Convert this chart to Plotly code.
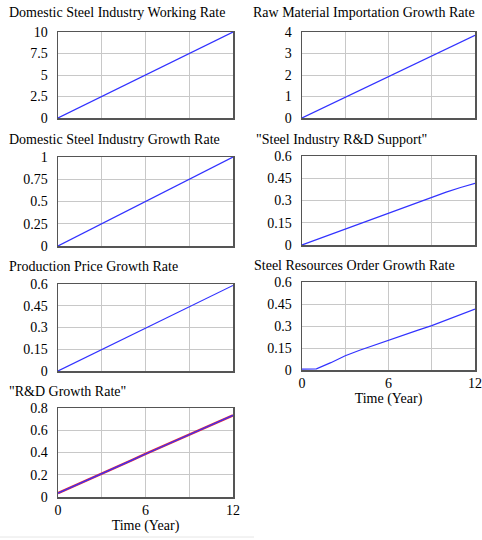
import plotly.graph_objects as go

W, H = 482, 540

time = [0, 1, 2, 3, 4, 5, 6, 7, 8, 9, 10, 11, 12]

working_rate = [0, 0.83, 1.67, 2.5, 3.33, 4.17, 5.0, 5.83, 6.67, 7.5, 8.33, 9.17, 10.0]
raw_import = [0, 0.32, 0.65, 0.97, 1.29, 1.61, 1.93, 2.25, 2.57, 2.9, 3.22, 3.54, 3.85]
dom_growth = [0, 0.083, 0.167, 0.25, 0.333, 0.417, 0.5, 0.583, 0.667, 0.75, 0.833, 0.917, 1.0]
rd_support = [0, 0.036, 0.071, 0.106, 0.141, 0.176, 0.211, 0.247, 0.284, 0.32, 0.356, 0.388, 0.416]
price_growth = [0, 0.049, 0.098, 0.147, 0.196, 0.245, 0.295, 0.344, 0.393, 0.442, 0.491, 0.54, 0.59]
order_growth = [0.006, 0.008, 0.05, 0.097, 0.135, 0.17, 0.205, 0.238, 0.27, 0.303, 0.34, 0.38, 0.415]
rd_growth_a = [0.035, 0.092, 0.15, 0.207, 0.267, 0.327, 0.387, 0.445, 0.5, 0.56, 0.618, 0.676, 0.734]
rd_growth_b = [0.035, 0.092, 0.15, 0.207, 0.267, 0.327, 0.387, 0.445, 0.5, 0.56, 0.618, 0.676, 0.734]

titles = [
    "Domestic Steel Industry Working Rate",
    "Raw Material Importation Growth Rate",
    "Domestic Steel Industry Growth Rate",
    "\"Steel Industry R&D Support\"",
    "Production Price Growth Rate",
    "Steel Resources Order Growth Rate",
    "\"R&D Growth Rate\"",
]
y_ticks = [
    ([0, 2.5, 5, 7.5, 10], ["0", "2.5", "5", "7.5", "10"]),
    ([0, 1, 2, 3, 4], ["0", "1", "2", "3", "4"]),
    ([0, 0.25, 0.5, 0.75, 1], ["0", "0.25", "0.5", "0.75", "1"]),
    ([0, 0.15, 0.3, 0.45, 0.6], ["0", "0.15", "0.3", "0.45", "0.6"]),
    ([0, 0.15, 0.3, 0.45, 0.6], ["0", "0.15", "0.3", "0.45", "0.6"]),
    ([0, 0.15, 0.3, 0.45, 0.6], ["0", "0.15", "0.3", "0.45", "0.6"]),
    ([0, 0.2, 0.4, 0.6, 0.8], ["0", "0.2", "0.4", "0.6", "0.8"]),
]
x_tickvals = [0, 3, 6, 9, 12]
x_ticktext = ["0", "", "6", "", "12"]
x_title = "Time (Year)"

series = [working_rate, raw_import, dom_growth, rd_support, price_growth, order_growth, rd_growth_b]

# plot-area boxes in pixels: (left, right, top, bottom)
boxes = [
    (58, 233, 32, 118),
    (302, 475, 32, 118),
    (58, 233, 157, 246),
    (302, 475, 156, 245),
    (58, 233, 284, 371),
    (302, 475, 282, 370),
    (58, 233, 408, 497),
]
title_pos = [(7, 13), (251, 13), (7, 139), (254, 139), (7, 266), (252, 265), (7, 391)]

FONT = "Liberation Serif, Times New Roman, serif"
BLUE = "rgb(50,50,255)"

fig = go.Figure()
layout = dict(
    width=W, height=H,
    margin=dict(l=0, r=0, t=0, b=0, autoexpand=False),
    paper_bgcolor="white", plot_bgcolor="white",
    showlegend=False,
    font=dict(family=FONT, size=14, color="black"),
    annotations=[], shapes=[],
)

for i in range(7):
    n = i + 1
    xa = "x" if n == 1 else f"x{n}"
    ya = "y" if n == 1 else f"y{n}"
    if i == 6:
        fig.add_trace(go.Scatter(x=time, y=rd_growth_a, mode="lines",
                                 line=dict(color="rgb(230,40,60)", width=2.5),
                                 xaxis=xa, yaxis=ya, hoverinfo="skip"))
    fig.add_trace(go.Scatter(x=time, y=series[i], mode="lines",
                             line=dict(color=BLUE, width=1.2),
                             xaxis=xa, yaxis=ya, hoverinfo="skip"))
    l, r, t, b = boxes[i]
    show_x = i in (5, 6)
    tv, tt = y_ticks[i]
    layout[f"xaxis{'' if n == 1 else n}"] = dict(
        domain=[l / W, r / W], anchor=ya, range=[0, 12], automargin=False,
        tickvals=x_tickvals, ticktext=x_ticktext if show_x else [""] * 5,
        showticklabels=show_x, showgrid=True, gridcolor="#c8c8c8", gridwidth=1,
        zeroline=False, showline=True, linecolor="#555555", linewidth=1.5, mirror=True,
        ticks="",
        tickfont=dict(family=FONT, size=14, color="black"),
        title=dict(text=x_title, font=dict(family=FONT, size=14), standoff=2) if show_x else None,
    )
    layout[f"yaxis{'' if n == 1 else n}"] = dict(
        domain=[1 - b / H, 1 - t / H], anchor=xa, range=[tv[0], tv[-1]], automargin=False,
        tickvals=tv, ticktext=tt,
        showgrid=True, gridcolor="#c8c8c8", gridwidth=1,
        zeroline=False, showline=True, linecolor="#555555", linewidth=1.5, mirror=True,
        ticks="outside", ticklen=6, tickcolor="rgba(0,0,0,0)",
        tickfont=dict(family=FONT, size=14, color="black"),
    )
    tx, ty = title_pos[i]
    layout["annotations"].append(dict(
        text=titles[i], x=tx / W, y=1 - ty / H, xref="paper", yref="paper",
        xanchor="left", yanchor="middle", showarrow=False,
        font=dict(family=FONT, size=14, color="black"),
    ))

layout["shapes"].append(dict(type="line", xref="paper", yref="paper",
                             x0=0, x1=254 / W, y0=1 - 537 / H, y1=1 - 537 / H,
                             line=dict(color="#e6e6e6", width=1)))

fig.update_layout(**layout)
fig.write_html("out.html",
               config={"displayModeBar": False, "staticPlot": True},
               post_script="document.body.style.margin='0';document.body.style.overflow='hidden';")
